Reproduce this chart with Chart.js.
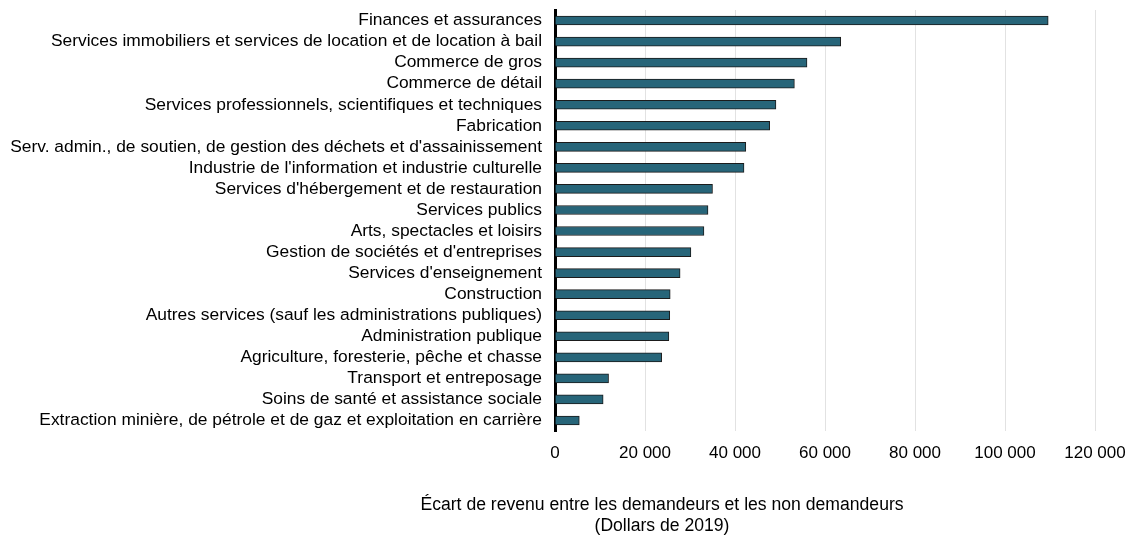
<!DOCTYPE html>
<html lang="fr">
<head>
<meta charset="utf-8">
<script src="https://cdn.jsdelivr.net/npm/chart.js@4/dist/chart.umd.min.js"></script>
<style>
  html, body { margin: 0; padding: 0; background: #fff; }
  #wrap { width: 1131px; height: 538px; position: relative; }
</style>
</head>
<body>
<div id="wrap"><canvas id="c"></canvas></div>
<script>
// Industries, ordered from largest to smallest gap
const industries = [
  "Finances et assurances",
  "Services immobiliers et services de location et de location à bail",
  "Commerce de gros",
  "Commerce de détail",
  "Services professionnels, scientifiques et techniques",
  "Fabrication",
  "Serv. admin., de soutien, de gestion des déchets et d'assainissement",
  "Industrie de l'information et industrie culturelle",
  "Services d'hébergement et de restauration",
  "Services publics",
  "Arts, spectacles et loisirs",
  "Gestion de sociétés et d'entreprises",
  "Services d'enseignement",
  "Construction",
  "Autres services (sauf les administrations publiques)",
  "Administration publique",
  "Agriculture, foresterie, pêche et chasse",
  "Transport et entreposage",
  "Soins de santé et assistance sociale",
  "Extraction minière, de pétrole et de gaz et exploitation en carrière"
];

// Income gap between claimants and non-claimants (2019 dollars)
const incomeGap = [
  109600, 63500, 56000, 53200, 49100, 47700, 42400, 42000, 35000, 34000,
  33100, 30200, 27800, 25600, 25500, 25300, 23700, 11900, 10700, 5400
];

const xTicks = [0, 20000, 40000, 60000, 80000, 100000, 120000];

const axisTitleLines = [
  "Écart de revenu entre les demandeurs et les non demandeurs",
  "(Dollars de 2019)"
];

const FONT = "'Liberation Sans', Arial, sans-serif";

function spaced(n) {
  return String(n).replace(/\B(?=(\d{3})+(?!\d))/g, " ");
}

// Draws the two-line axis caption under the tick labels
const captionPlugin = {
  id: "caption",
  afterDraw(chart) {
    const ctx = chart.ctx;
    ctx.save();
    ctx.font = "17.6px " + FONT;
    ctx.fillStyle = "#000";
    ctx.textAlign = "center";
    ctx.textBaseline = "middle";
    ctx.fillText(axisTitleLines[0], 662, 505);
    ctx.fillText(axisTitleLines[1], 662, 526);
    ctx.restore();
  }
};

new Chart(document.getElementById("c"), {
  type: "bar",
  data: {
    labels: industries,
    datasets: [{
      data: incomeGap,
      backgroundColor: "#276579",
      borderColor: "#1b1b1b",
      borderWidth: 1,
      barThickness: 9
    }]
  },
  options: {
    indexAxis: "y",
    responsive: true,
    maintainAspectRatio: false,
    animation: false,
    layout: { padding: { top: 10, right: 36, bottom: 0, left: 0 } },
    plugins: {
      legend: { display: false },
      tooltip: { enabled: false }
    },
    scales: {
      x: {
        min: 0,
        max: 120000,
        afterBuildTicks(scale) {
          scale.ticks = xTicks.map(v => ({ value: v }));
        },
        afterFit(scale) {
          scale.height = 107;
          scale.paddingLeft = 0;
          scale.paddingRight = 0;
        },
        grid: { color: "#e2e2e2", lineWidth: 1, drawTicks: false },
        border: { display: false },
        ticks: {
          padding: 12,
          color: "#000",
          font: { family: FONT, size: 17 },
          callback: v => spaced(v),
          maxRotation: 0
        }
      },
      y: {
        afterFit(scale) {
          scale.width = 555;
          scale.paddingTop = 0;
          scale.paddingBottom = 0;
        },
        grid: { display: false, drawTicks: false },
        border: { display: true, color: "#000", width: 3 },
        ticks: {
          padding: 13,
          color: "#000",
          font: { family: FONT, size: 17.4 },
          autoSkip: false
        }
      }
    }
  },
  plugins: [captionPlugin]
});
</script>
</body>
</html>
